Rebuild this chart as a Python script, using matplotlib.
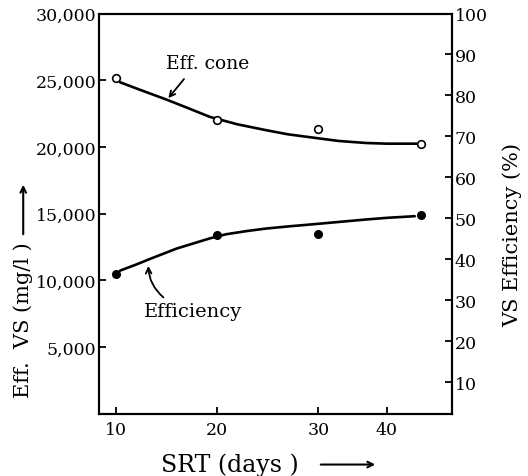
import numpy as np
import matplotlib
matplotlib.use("Agg")
import matplotlib.pyplot as plt

plt.rcParams['font.family'] = ['DejaVu Serif']

# SRT (days) of the measured points
srt = [10, 20, 30, 45]
# effluent VS concentration, mg/l (open circles, left axis)
eff_conc = [25150, 22040, 21350, 20220]
# VS removal efficiency, % (filled circles, right axis)
efficiency = [36.4, 46.0, 46.2, 50.7]

# hand-drawn smooth curves
conc_curve_x = [10.4, 12.5, 15.0, 17.0, 19.3, 22.0, 24.9, 27.0, 29.8, 33.0, 37.0, 40.0, 44.4]
conc_curve_y = [24850, 24250, 23550, 22950, 22250, 21700, 21250, 20950, 20670, 20450, 20300, 20250, 20250]
eff_curve_x = [10.4, 12.0, 13.4, 16.0, 19.3, 20.9, 23.0, 24.9, 27.0, 29.8, 33.0, 37.0, 40.0, 44.1]
eff_curve_y = [37.2, 38.7, 40.1, 42.6, 45.1, 46.1, 46.9, 47.5, 48.0, 48.6, 49.1, 49.7, 50.1, 50.5]

left_ticks = [5000, 10000, 15000, 20000, 25000, 30000]
left_labels = ['5,000', '10,000', '15,000', '20,000', '25,000', '30,000']
right_ticks = [10, 20, 30, 40, 50, 60, 70, 80, 90, 100]
x_ticks = [10, 20, 30, 40]

# the original x axis is squeezed beyond 30 days
def fwd(v):
    v = np.asarray(v, dtype=float)
    return np.where(v <= 30, v, 30 + (v - 30) * 0.676)

def inv(p):
    p = np.asarray(p, dtype=float)
    return np.where(p <= 30, p, 30 + (p - 30) / 0.676)

fig = plt.figure(figsize=(5.28, 4.77), dpi=100)
ax = fig.add_axes([0.188, 0.13, 0.6675, 0.8396])
ax.set_xscale('function', functions=(fwd, inv))
ax2 = ax.twinx()

ax.plot(conc_curve_x, conc_curve_y, color='black', lw=1.9, solid_capstyle='round',
        solid_joinstyle='round')
ax.plot(srt, eff_conc, 'o', ms=5.5, mfc='white', mec='black', mew=1.2)
ax2.plot(eff_curve_x, eff_curve_y, color='black', lw=1.9, solid_capstyle='round',
         solid_joinstyle='round')
ax2.plot(srt, efficiency, 'o', ms=5.5, color='black')

ax.set_xlim(8.35, 49.5)
ax.set_ylim(0, 30000)
ax2.set_ylim(2.2, 100)

ax.set_xticks(x_ticks)
ax.set_xticklabels([str(t) for t in x_ticks])
ax.set_yticks(left_ticks)
ax.set_yticklabels(left_labels)
ax2.set_yticks(right_ticks)
ax2.set_yticklabels([str(t) for t in right_ticks])

for a in (ax, ax2):
    for s in a.spines.values():
        s.set_linewidth(1.5)
    a.tick_params(direction='in', length=5, width=1.3, labelsize=12.5, pad=2)
ax.tick_params(axis='x', pad=5)
ax.xaxis.set_minor_locator(matplotlib.ticker.NullLocator())

ax.text(19.1, 26290, 'Eff. cone', fontsize=13.5, ha='center', va='center')
ax.annotate('', xy=(15.0, 23500), xytext=(16.9, 25250),
            arrowprops=dict(arrowstyle='->', lw=1.3, color='black'))
ax.text(17.6, 7715, 'Efficiency', fontsize=14, ha='center', va='center')
ax.annotate('', xy=(13.2, 11300), xytext=(14.9, 8600),
            arrowprops=dict(arrowstyle='->', lw=1.3, color='black',
                            connectionstyle='arc3,rad=-0.25'))

# axis titles with their arrows
fig.text(0.044, 0.329, 'Eff.  VS (mg/l )', rotation=90, fontsize=15,
         ha='center', va='center')
fig.text(0.436, 0.024, 'SRT (days )', fontsize=17, ha='center', va='center')
fig.text(0.97, 0.507, 'VS Efficiency (%)', rotation=90, fontsize=15,
         ha='center', va='center')
ax.annotate('', xy=(0.044, 1 - 183 / 477), xytext=(0.044, 1 - 238 / 477),
            xycoords='figure fraction', textcoords='figure fraction',
            arrowprops=dict(arrowstyle='->', lw=1.5, color='black'))
ax.annotate('', xy=(378 / 528, 0.024), xytext=(318 / 528, 0.024),
            xycoords='figure fraction', textcoords='figure fraction',
            arrowprops=dict(arrowstyle='->', lw=1.5, color='black'))

fig.savefig('out.png', dpi=100)
